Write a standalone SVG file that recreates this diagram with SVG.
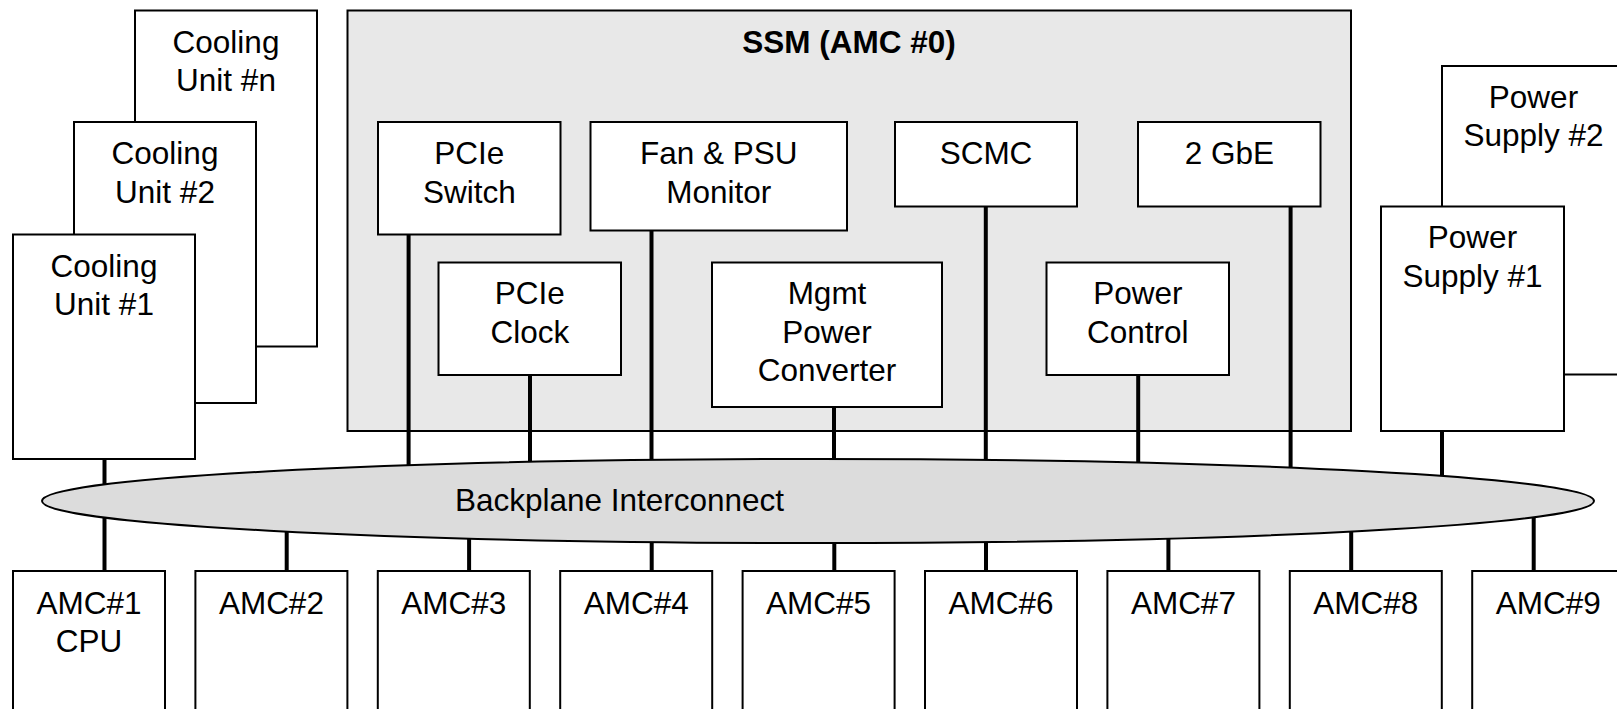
<svg xmlns="http://www.w3.org/2000/svg" width="1617" height="709" viewBox="0 0 1617 709">
  <style>
    .box { fill: #ffffff; stroke: #000000; stroke-width: 2; }
    .ssm { fill: #e8e8e8; stroke: #000000; stroke-width: 2; }
    .bus { fill: #dcdcdc; stroke: #000000; stroke-width: 2; }
    .link { stroke: #000000; stroke-width: 4; fill: none; }
    .lbl { font-family: "Liberation Sans", Arial, sans-serif; font-size: 31.5px; fill: #000000; text-anchor: middle; }
    .title { font-weight: bold; }
  </style>

  <!-- Cooling units (stacked, back to front) -->
  <g id="cooling-n">
    <rect class="box" x="135" y="10.5" width="182" height="336"/>
    <text class="lbl" x="226" y="52.5">Cooling</text>
    <text class="lbl" x="226" y="90.8">Unit #n</text>
  </g>
  <g id="cooling-2">
    <rect class="box" x="74" y="122" width="182" height="281"/>
    <text class="lbl" x="165" y="164.3">Cooling</text>
    <text class="lbl" x="165" y="202.6">Unit #2</text>
  </g>
  <g id="cooling-1">
    <rect class="box" x="13" y="234.5" width="182" height="224.5"/>
    <text class="lbl" x="104" y="276.7">Cooling</text>
    <text class="lbl" x="104" y="315">Unit #1</text>
  </g>

  <!-- Shelf management module -->
  <g id="ssm">
    <rect class="ssm" x="347.5" y="10.5" width="1003.5" height="420.5"/>
    <text class="lbl title" x="849" y="52.5">SSM (AMC #0)</text>
  </g>
  <g id="pcie-switch">
    <rect class="box" x="378" y="122" width="182.5" height="112.5"/>
    <text class="lbl" x="469.3" y="164">PCIe</text>
    <text class="lbl" x="469.3" y="202.5">Switch</text>
  </g>
  <g id="fan-psu-monitor">
    <rect class="box" x="590.5" y="122" width="256.5" height="108.5"/>
    <text class="lbl" x="718.8" y="164">Fan &amp; PSU</text>
    <text class="lbl" x="718.8" y="202.5">Monitor</text>
  </g>
  <g id="scmc">
    <rect class="box" x="895" y="122" width="182" height="84.5"/>
    <text class="lbl" x="986" y="164">SCMC</text>
  </g>
  <g id="gbe">
    <rect class="box" x="1138" y="122" width="182.5" height="84.5"/>
    <text class="lbl" x="1229.3" y="164">2 GbE</text>
  </g>
  <g id="pcie-clock">
    <rect class="box" x="438.5" y="262.5" width="182.5" height="112.5"/>
    <text class="lbl" x="529.8" y="304.3">PCIe</text>
    <text class="lbl" x="529.8" y="342.6">Clock</text>
  </g>
  <g id="mgmt-power-converter">
    <rect class="box" x="712" y="262.5" width="230" height="144.5"/>
    <text class="lbl" x="827" y="304.3">Mgmt</text>
    <text class="lbl" x="827" y="342.6">Power</text>
    <text class="lbl" x="827" y="380.9">Converter</text>
  </g>
  <g id="power-control">
    <rect class="box" x="1046.5" y="262.5" width="182.5" height="112.5"/>
    <text class="lbl" x="1137.8" y="304.3">Power</text>
    <text class="lbl" x="1137.8" y="342.6">Control</text>
  </g>

  <!-- Power supplies -->
  <g id="power-supply-2">
    <rect class="box" x="1442" y="66" width="183" height="308.5"/>
    <text class="lbl" x="1533.5" y="108">Power</text>
    <text class="lbl" x="1533.5" y="146.3">Supply #2</text>
  </g>
  <g id="power-supply-1">
    <rect class="box" x="1381" y="206.5" width="183" height="224.5"/>
    <text class="lbl" x="1472.5" y="248.3">Power</text>
    <text class="lbl" x="1472.5" y="286.6">Supply #1</text>
  </g>

  <!-- Links to the backplane -->
  <g id="connectors">
    <line class="link" x1="104.5" y1="459" x2="104.5" y2="571"/>
    <line class="link" x1="408.6" y1="234.5" x2="408.6" y2="500"/>
    <line class="link" x1="530" y1="375" x2="530" y2="500"/>
    <line class="link" x1="651.5" y1="230.5" x2="651.5" y2="500"/>
    <line class="link" x1="834" y1="407" x2="834" y2="500"/>
    <line class="link" x1="985.8" y1="206.5" x2="985.8" y2="500"/>
    <line class="link" x1="1138.2" y1="375" x2="1138.2" y2="500"/>
    <line class="link" x1="1290.6" y1="206.5" x2="1290.6" y2="500"/>
    <line class="link" x1="1442" y1="431" x2="1442" y2="500"/>
    <line class="link" x1="286.7" y1="500" x2="286.7" y2="571"/>
    <line class="link" x1="469.1" y1="500" x2="469.1" y2="571"/>
    <line class="link" x1="651.7" y1="500" x2="651.7" y2="571"/>
    <line class="link" x1="834.3" y1="500" x2="834.3" y2="571"/>
    <line class="link" x1="986" y1="500" x2="986" y2="571"/>
    <line class="link" x1="1168.4" y1="500" x2="1168.4" y2="571"/>
    <line class="link" x1="1351.2" y1="500" x2="1351.2" y2="571"/>
    <line class="link" x1="1533.7" y1="500" x2="1533.7" y2="571"/>
  </g>

  <!-- Backplane -->
  <g id="backplane">
    <ellipse class="bus" cx="818" cy="501" rx="776" ry="42"/>
    <text class="lbl" x="619.5" y="511">Backplane Interconnect</text>
  </g>

  <!-- AMC slots -->
  <g id="amc1">
    <rect class="box" x="13" y="571" width="152" height="150"/>
    <text class="lbl" x="89" y="614">AMC#1</text>
    <text class="lbl" x="89" y="652">CPU</text>
  </g>
  <g id="amc2">
    <rect class="box" x="195.4" y="571" width="152" height="150"/>
    <text class="lbl" x="271.4" y="614">AMC#2</text>
  </g>
  <g id="amc3">
    <rect class="box" x="377.8" y="571" width="152" height="150"/>
    <text class="lbl" x="453.8" y="614">AMC#3</text>
  </g>
  <g id="amc4">
    <rect class="box" x="560.2" y="571" width="152" height="150"/>
    <text class="lbl" x="636.2" y="614">AMC#4</text>
  </g>
  <g id="amc5">
    <rect class="box" x="742.6" y="571" width="152" height="150"/>
    <text class="lbl" x="818.6" y="614">AMC#5</text>
  </g>
  <g id="amc6">
    <rect class="box" x="925" y="571" width="152" height="150"/>
    <text class="lbl" x="1001" y="614">AMC#6</text>
  </g>
  <g id="amc7">
    <rect class="box" x="1107.4" y="571" width="152" height="150"/>
    <text class="lbl" x="1183.4" y="614">AMC#7</text>
  </g>
  <g id="amc8">
    <rect class="box" x="1289.8" y="571" width="152" height="150"/>
    <text class="lbl" x="1365.8" y="614">AMC#8</text>
  </g>
  <g id="amc9">
    <rect class="box" x="1472.2" y="571" width="152" height="150"/>
    <text class="lbl" x="1548.2" y="614">AMC#9</text>
  </g>
</svg>
